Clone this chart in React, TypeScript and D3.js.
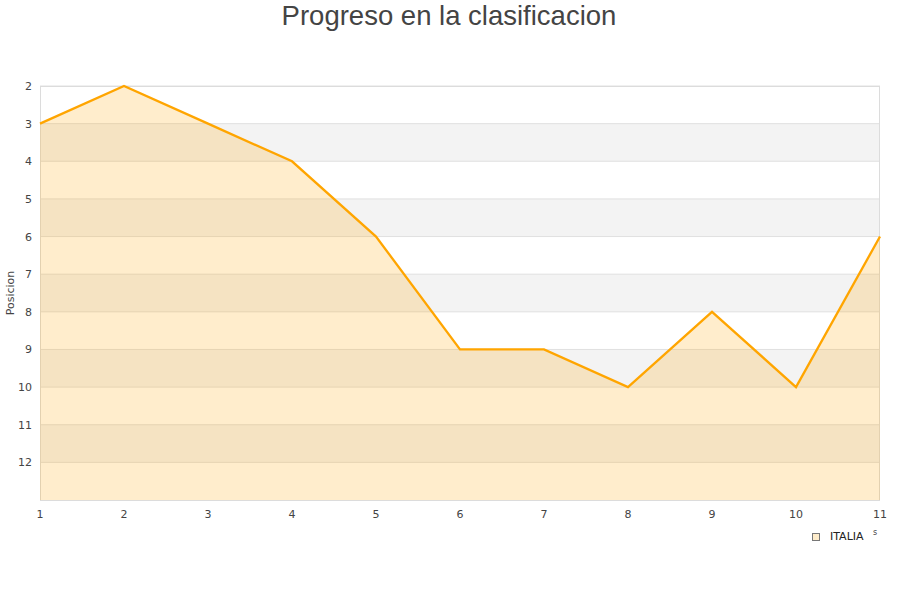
import React from 'react';
import * as d3 from 'd3';

const jornadas = [1, 2, 3, 4, 5, 6, 7, 8, 9, 10, 11];
const italia = [3, 2, 3, 4, 6, 9, 9, 10, 8, 10, 6];
const yTicks = [2, 3, 4, 5, 6, 7, 8, 9, 10, 11, 12];
const serieNombre = 'ITALIA';

const W = 900;
const H = 600;
const M = { left: 40, right: 20, top: 86, bottom: 100 };

const App: React.FC = () => {
  const x = d3.scaleLinear().domain([1, 11]).range([M.left, W - M.right]);
  const y = d3.scaleLinear().domain([2, 13]).range([M.top, H - M.bottom]);

  const line = d3.line<number>().x((_, i) => x(jornadas[i])).y(d => y(d));
  const area = d3
    .area<number>()
    .x((_, i) => x(jornadas[i]))
    .y0(y(13))
    .y1(d => y(d));

  const bands = d3.range(3, 13, 2);

  return (
    <svg width={W} height={H} style={{ display: 'block', position: 'absolute', left: 0, top: 0 }}>
      <rect width={W} height={H} fill="#fff" />
      <text x={449} y={25} textAnchor="middle" fontFamily="Liberation Sans, Arial, sans-serif" fontSize={27.5} fill="#444">
        Progreso en la clasificacion
      </text>

      {/* alternating bands */}
      {bands.map(b => (
        <rect key={b} x={M.left} y={y(b)} width={x(11) - x(1)} height={y(b + 1) - y(b)} fill="#f3f3f3" />
      ))}
      {/* grid lines */}
      {yTicks.map(t => (
        <line key={t} x1={M.left} x2={x(11)} y1={y(t)} y2={y(t)} stroke="#e0e0e0" strokeWidth={1} />
      ))}
      <rect x={M.left + 0.5} y={M.top + 0.5} width={x(11) - x(1) - 1} height={y(13) - y(2)} fill="none" stroke="#dcdcdc" />

      <path d={area(italia) ?? ''} fill="orange" fillOpacity={0.2} />
      <path d={line(italia) ?? ''} fill="none" stroke="#ffa500" strokeWidth={2.3} />

      {/* y ticks */}
      {yTicks.map(t => (
        <text key={t} x={32} y={y(t) + 4} textAnchor="end" fontFamily="DejaVu Sans, sans-serif" fontSize={11} fill="#444">
          {t}
        </text>
      ))}
      {/* x ticks */}
      {jornadas.map(j => (
        <text key={j} x={x(j)} y={518} textAnchor="middle" fontFamily="DejaVu Sans, sans-serif" fontSize={11} fill="#444">
          {j}
        </text>
      ))}
      <text
        transform={`translate(14,${(M.top + y(13)) / 2}) rotate(-90)`}
        textAnchor="middle"
        fontFamily="DejaVu Sans, sans-serif"
        fontSize={11}
        fill="#444"
      >
        Posicion
      </text>

      {/* legend */}
      <rect x={812.5} y={533.5} width={7} height={7} fill="#feecca" stroke="#777" strokeWidth={1} />
      <text x={830} y={540} fontFamily="DejaVu Sans, sans-serif" fontSize={11} fill="#222">
        {serieNombre}
      </text>
      <text x={873} y={535} fontFamily="DejaVu Sans, sans-serif" fontSize={8} fill="#444">
        s
      </text>
    </svg>
  );
};

export default App;
